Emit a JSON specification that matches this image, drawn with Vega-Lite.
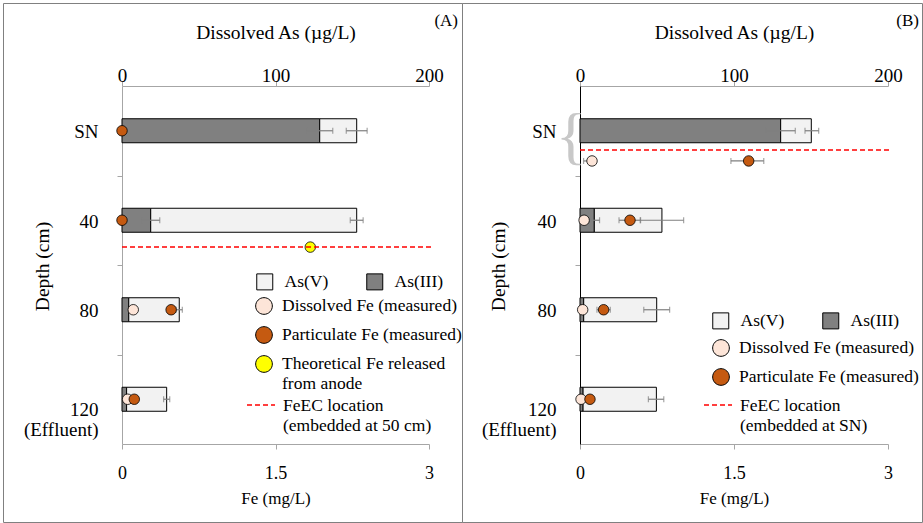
{
  "$schema": "https://vega.github.io/schema/vega-lite/v6.json",
  "padding": {"left": 2, "top": 2, "right": 2, "bottom": 2},
  "spacing": 0,
  "bounds": "flush",
  "config": {
    "font": "Liberation Serif",
    "view": {"stroke": "#808080", "strokeWidth": 1},
    "axis": {"labelColor": "black", "titleColor": "black", "grid": false, "titleFontWeight": "normal", "labelFont": "Liberation Serif", "titleFont": "Liberation Serif"},
    "axisBottom": {"titleFontSize": 17, "titleFont": "Liberation Serif", "titleFontWeight": "normal"},
    "axisTop": {"titleFontSize": 19.5},
    "legend": {"labelFont": "Liberation Serif", "labelFontSize": 17.5, "labelColor": "black", "labelLimit": 400, "padding": 0, "symbolOpacity": 1}
  },
  "datasets": {
    "asA": [
      {"depth": 0, "species": "As(III)", "conc": 128.8},
      {"depth": 0, "species": "As(V)", "conc": 24.1},
      {"depth": 40, "species": "As(III)", "conc": 18.7},
      {"depth": 40, "species": "As(V)", "conc": 134.2},
      {"depth": 80, "species": "As(III)", "conc": 4.4},
      {"depth": 80, "species": "As(V)", "conc": 32.9},
      {"depth": 120, "species": "As(III)", "conc": 3.0},
      {"depth": 120, "species": "As(V)", "conc": 26.1}
    ],
    "asErrA": [
      {"depth": 0, "lo": 120.3, "hi": 137.3},
      {"depth": 0, "lo": 146.1, "hi": 159.7},
      {"depth": 40, "lo": 12.8, "hi": 24.6},
      {"depth": 40, "lo": 148.7, "hi": 157.1},
      {"depth": 80, "lo": 35.3, "hi": 39.3},
      {"depth": 120, "lo": 27.1, "hi": 31.1}
    ],
    "feA": [
      {"depth": 0, "type": "Particulate Fe (measured)", "fe": 0},
      {"depth": 40, "type": "Particulate Fe (measured)", "fe": 0},
      {"depth": 52, "type": "Theoretical Fe released from anode", "fe": 1.84},
      {"depth": 80, "type": "Dissolved Fe (measured)", "fe": 0.11},
      {"depth": 80, "type": "Particulate Fe (measured)", "fe": 0.48},
      {"depth": 120, "type": "Dissolved Fe (measured)", "fe": 0.055},
      {"depth": 120, "type": "Particulate Fe (measured)", "fe": 0.12}
    ],
    "feecA": [{"depth": 52, "loc": "FeEC location (embedded at 50 cm)"}],
    "asB": [
      {"depth": 0, "species": "As(III)", "conc": 130.3},
      {"depth": 0, "species": "As(V)", "conc": 19.9},
      {"depth": 40, "species": "As(III)", "conc": 9.3},
      {"depth": 40, "species": "As(V)", "conc": 43.9},
      {"depth": 80, "species": "As(III)", "conc": 2.4},
      {"depth": 80, "species": "As(V)", "conc": 47.4},
      {"depth": 120, "species": "As(III)", "conc": 2.0},
      {"depth": 120, "species": "As(V)", "conc": 47.6}
    ],
    "asErrB": [
      {"depth": 0, "lo": 120.8, "hi": 139.8},
      {"depth": 0, "lo": 146.1, "hi": 155.0},
      {"depth": 40, "lo": 5.9, "hi": 12.7},
      {"depth": 40, "lo": 39.1, "hi": 67.3},
      {"depth": 80, "lo": 41.4, "hi": 58.2},
      {"depth": 120, "lo": 44.4, "hi": 54.4}
    ],
    "feB": [
      {"depth": 13.5, "type": "Dissolved Fe (measured)", "fe": 0.117},
      {"depth": 13.5, "type": "Particulate Fe (measured)", "fe": 1.643},
      {"depth": 40, "type": "Dissolved Fe (measured)", "fe": 0.04},
      {"depth": 40, "type": "Particulate Fe (measured)", "fe": 0.487},
      {"depth": 80, "type": "Dissolved Fe (measured)", "fe": 0.026},
      {"depth": 80, "type": "Particulate Fe (measured)", "fe": 0.23},
      {"depth": 120, "type": "Dissolved Fe (measured)", "fe": 0.01},
      {"depth": 120, "type": "Particulate Fe (measured)", "fe": 0.097}
    ],
    "feErrB": [
      {"depth": 13.5, "lo": 0.035, "hi": 0.15},
      {"depth": 13.5, "lo": 1.47, "hi": 1.79},
      {"depth": 40, "lo": 0.38, "hi": 0.59},
      {"depth": 80, "lo": 0.165, "hi": 0.295}
    ],
    "feecB": [{"depth": 8.6, "loc": "FeEC location (embedded at SN)"}]
  },
  "resolve": {"scale": {"fill": "independent", "stroke": "independent", "strokeDash": "independent"}},
  "hconcat": [
    {
      "width": 459,
      "height": 519,
      "resolve": {"scale": {"x": "independent", "fill": "independent"}},
      "layer": [
        {
          "data": {"name": "asA"},
          "mark": {"type": "bar", "orient": "horizontal", "size": 24, "stroke": "black", "strokeWidth": 1},
          "encoding": {
            "x": {"field": "conc", "type": "quantitative", "stack": "zero", "title": "Dissolved As (µg/L)",
              "scale": {"domain": [0, 200], "range": [119, 426], "nice": false},
              "axis": {"orient": "top", "offset": -83, "values": [0, 100, 200], "format": "d", "tickSize": 5, "labelPadding": 0, "labelBaseline": "alphabetic", "labelFlush": false, "labelFontSize": 19, "domainColor": "#a6a6a6", "tickColor": "#a6a6a6", "titleFont": "Liberation Serif", "titleFontSize": 19.5, "titleY": -48, "titleBaseline": "alphabetic"}},
            "y": {"field": "depth", "type": "quantitative",
              "scale": {"domain": [-20, 140], "range": [83, 441], "nice": false, "zero": false, "padding": 0},
              "axis": {"orient": "left", "offset": -119, "values": [0, 20, 40, 60, 80, 100, 120],
                "labelExpr": "datum.value == 0 ? 'SN' : datum.value == 120 ? ['120', '(Effluent)'] : (datum.value == 40 || datum.value == 80) ? datum.label : ''",
                "tickSize": 5, "tickColor": "#a6a6a6", "tickOpacity": {"condition": {"test": "datum.value % 40 == 0", "value": 0}, "value": 1},
                "labelPadding": 19, "labelAlign": "right", "labelBaseline": {"condition": {"test": "datum.value == 120", "value": "top"}, "value": "middle"},
                "labelOffset": 1, "labelFontSize": 19, "labelLineHeight": 20, "labelOverlap": false, "labelFlush": false,
                "domainColor": "#a6a6a6", "title": "Depth (cm)", "titleFont": "Liberation Serif", "titleFontSize": 19.5, "titleX": -74, "titleY": 263, "titleBaseline": "alphabetic", "titleAlign": "center", "titleAngle": -90}},
            "fill": {"field": "species", "type": "nominal",
              "scale": {"domain": ["As(V)", "As(III)"], "range": ["#f2f2f2", "#808080"]},
              "legend": {"orient": "none", "legendX": 253, "legendY": 270, "direction": "horizontal", "columns": 2, "symbolType": "square", "symbolSize": 256, "symbolStrokeColor": "black", "symbolStrokeWidth": 1, "labelOffset": 11, "columnPadding": 35, "title": null}},
            "order": {"field": "species", "sort": "ascending"}
          }
        },
        {
          "data": {"name": "asErrA"},
          "mark": {"type": "errorbar", "ticks": true, "size": 6, "thickness": 1.2, "color": "#7f7f7f"},
          "encoding": {
            "x": {"field": "lo", "type": "quantitative", "scale": {"domain": [0, 200], "range": [119, 426], "nice": false}, "axis": null},
            "x2": {"field": "hi"},
            "y": {"field": "depth", "type": "quantitative"}
          }
        },
        {
          "data": {"values": [{}]},
          "mark": {"type": "text", "text": "(A)", "font": "Liberation Serif", "fontSize": 17, "color": "black", "align": "right", "baseline": "alphabetic"},
          "encoding": {
            "x": {"datum": 218.9, "type": "quantitative", "scale": {"domain": [0, 200], "range": [119, 426], "nice": false}, "axis": null},
            "y": {"datum": -46.8, "type": "quantitative"}
          }
        },
        {
          "data": {"name": "feA"},
          "mark": {"type": "circle", "size": 110, "stroke": "black", "strokeWidth": 0.8, "opacity": 1},
          "encoding": {
            "x": {"field": "fe", "type": "quantitative", "title": "Fe (mg/L)",
              "scale": {"domain": [0, 3], "range": [119, 426], "nice": false},
              "axis": {"orient": "bottom", "offset": -78, "values": [0, 1.5, 3], "labelExpr": "'' + datum.value", "tickSize": 5, "labelPadding": 29, "labelBaseline": "alphabetic", "labelFlush": false, "labelFontSize": 18, "domainColor": "#a6a6a6", "tickColor": "#a6a6a6", "title": "Fe (mg/L)", "titleFont": "Liberation Serif", "titleFontSize": 17, "titleFontWeight": "normal", "titleY": 59, "titleBaseline": "alphabetic"}},
            "y": {"field": "depth", "type": "quantitative"},
            "fill": {"field": "type", "type": "nominal",
              "scale": {"domain": ["Dissolved Fe (measured)", "Particulate Fe (measured)", "Theoretical Fe released from anode"], "range": ["#fde5d8", "#c55a11", "#ffff00"]},
              "legend": {"orient": "none", "legendX": 252, "legendY": 299, "direction": "vertical", "symbolType": "M-1,-0.6A1,1,0,1,1,1,-0.6A1,1,0,1,1,-1,-0.6Z", "symbolSize": 279, "symbolStrokeColor": "black", "symbolStrokeWidth": 1, "labelOffset": 9, "rowPadding": 7, "labelBaseline": "alphabetic", "labelLineHeight": 22, "labelExpr": "datum.label == 'Theoretical Fe released from anode' ? ['Theoretical Fe released', 'from anode'] : datum.label", "title": null}}
          }
        },
        {
          "data": {"name": "feecA"},
          "mark": {"type": "rule", "strokeWidth": 1.5},
          "encoding": {
            "y": {"field": "depth", "type": "quantitative"},
            "x": {"datum": 0, "type": "quantitative", "scale": {"domain": [0, 3], "range": [119, 426], "nice": false}, "axis": null},
            "x2": {"datum": 3.02},
            "stroke": {"field": "loc", "type": "nominal", "scale": {"range": ["#ff0000"]},
              "legend": {"orient": "none", "legendX": 243, "legendY": 393, "symbolType": "M-1,-0.43H1", "symbolSize": 784, "symbolStrokeWidth": 1.5, "symbolFillColor": "transparent", "labelOffset": 7, "labelBaseline": "alphabetic", "labelLineHeight": 22, "labelExpr": "['FeEC location', '(embedded at 50 cm)']", "title": null}},
            "strokeDash": {"field": "loc", "type": "nominal", "scale": {"range": [[5, 3]]},
              "legend": {"orient": "none", "legendX": 243, "legendY": 393, "symbolType": "M-1,-0.43H1", "symbolSize": 784, "symbolStrokeWidth": 1.5, "symbolFillColor": "transparent", "labelOffset": 7, "labelBaseline": "alphabetic", "labelLineHeight": 22, "labelExpr": "['FeEC location', '(embedded at 50 cm)']", "title": null}}
          }
        }
      ]
    },
    {
      "width": 460,
      "height": 519,
      "resolve": {"scale": {"x": "independent", "fill": "independent"}},
      "layer": [
        {
          "data": {"name": "asB"},
          "mark": {"type": "bar", "orient": "horizontal", "size": 24, "stroke": "black", "strokeWidth": 1},
          "encoding": {
            "x": {"field": "conc", "type": "quantitative", "stack": "zero", "title": "Dissolved As (µg/L)",
              "scale": {"domain": [0, 200], "range": [118, 426], "nice": false},
              "axis": {"orient": "top", "offset": -83, "values": [0, 100, 200], "format": "d", "tickSize": 5, "labelPadding": 0, "labelBaseline": "alphabetic", "labelFlush": false, "labelFontSize": 19, "domainColor": "#a6a6a6", "tickColor": "#a6a6a6", "titleFont": "Liberation Serif", "titleFontSize": 19.5, "titleY": -48, "titleBaseline": "alphabetic"}},
            "y": {"field": "depth", "type": "quantitative",
              "scale": {"domain": [-20, 140], "range": [83, 441], "nice": false, "zero": false, "padding": 0},
              "axis": {"orient": "left", "offset": -118, "values": [0, 20, 40, 60, 80, 100, 120],
                "labelExpr": "datum.value == 0 ? 'SN' : datum.value == 120 ? ['120', '(Effluent)'] : (datum.value == 40 || datum.value == 80) ? datum.label : ''",
                "tickSize": 5, "tickColor": "#a6a6a6", "tickOpacity": {"condition": {"test": "datum.value % 40 == 0", "value": 0}, "value": 1},
                "labelPadding": 19, "labelAlign": "right", "labelBaseline": {"condition": {"test": "datum.value == 120", "value": "top"}, "value": "middle"},
                "labelOffset": 1, "labelFontSize": 19, "labelLineHeight": 20, "labelOverlap": false, "labelFlush": false,
                "domainColor": "#000000", "title": "Depth (cm)", "titleFont": "Liberation Serif", "titleFontSize": 19.5, "titleX": -76, "titleY": 263, "titleBaseline": "alphabetic", "titleAlign": "center", "titleAngle": -90}},
            "fill": {"field": "species", "type": "nominal",
              "scale": {"domain": ["As(V)", "As(III)"], "range": ["#f2f2f2", "#808080"]},
              "legend": {"orient": "none", "legendX": 250, "legendY": 309, "direction": "horizontal", "columns": 2, "symbolType": "square", "symbolSize": 256, "symbolStrokeColor": "black", "symbolStrokeWidth": 1, "labelOffset": 11, "columnPadding": 35, "title": null}},
            "order": {"field": "species", "sort": "ascending"}
          }
        },
        {
          "data": {"name": "asErrB"},
          "mark": {"type": "errorbar", "ticks": true, "size": 6, "thickness": 1.2, "color": "#7f7f7f"},
          "encoding": {
            "x": {"field": "lo", "type": "quantitative", "scale": {"domain": [0, 200], "range": [118, 426], "nice": false}, "axis": null},
            "x2": {"field": "hi"},
            "y": {"field": "depth", "type": "quantitative"}
          }
        },
        {
          "data": {"values": [{}]},
          "mark": {"type": "text", "text": "{", "font": "Liberation Serif", "fontSize": 64, "color": "#c8c8c8", "align": "center", "baseline": "middle"},
          "encoding": {
            "x": {"datum": -5.8, "type": "quantitative", "scale": {"domain": [0, 200], "range": [118, 426], "nice": false}, "axis": null},
            "y": {"datum": 3.2, "type": "quantitative"}
          }
        },
        {
          "data": {"values": [{}]},
          "mark": {"type": "text", "text": "(B)", "font": "Liberation Serif", "fontSize": 17, "color": "black", "align": "right", "baseline": "alphabetic"},
          "encoding": {
            "x": {"datum": 220.1, "type": "quantitative", "scale": {"domain": [0, 200], "range": [118, 426], "nice": false}, "axis": null},
            "y": {"datum": -46.8, "type": "quantitative"}
          }
        },
        {
          "data": {"name": "feErrB"},
          "mark": {"type": "errorbar", "ticks": true, "size": 6, "thickness": 1.2, "color": "#7f7f7f"},
          "encoding": {
            "x": {"field": "lo", "type": "quantitative", "scale": {"domain": [0, 3], "range": [118, 426], "nice": false}, "axis": null},
            "x2": {"field": "hi"},
            "y": {"field": "depth", "type": "quantitative"}
          }
        },
        {
          "data": {"name": "feB"},
          "mark": {"type": "circle", "size": 110, "stroke": "black", "strokeWidth": 0.8, "opacity": 1},
          "encoding": {
            "x": {"field": "fe", "type": "quantitative", "title": "Fe (mg/L)",
              "scale": {"domain": [0, 3], "range": [118, 426], "nice": false},
              "axis": {"orient": "bottom", "offset": -78, "values": [0, 1.5, 3], "labelExpr": "'' + datum.value", "tickSize": 5, "labelPadding": 29, "labelBaseline": "alphabetic", "labelFlush": false, "labelFontSize": 18, "domainColor": "#a6a6a6", "tickColor": "#a6a6a6", "title": "Fe (mg/L)", "titleFont": "Liberation Serif", "titleFontSize": 17, "titleFontWeight": "normal", "titleY": 59, "titleBaseline": "alphabetic"}},
            "y": {"field": "depth", "type": "quantitative"},
            "fill": {"field": "type", "type": "nominal",
              "scale": {"domain": ["Dissolved Fe (measured)", "Particulate Fe (measured)"], "range": ["#fde5d8", "#c55a11"]},
              "legend": {"orient": "none", "legendX": 250, "legendY": 341, "direction": "vertical", "symbolType": "M-1,-0.6A1,1,0,1,1,1,-0.6A1,1,0,1,1,-1,-0.6Z", "symbolSize": 279, "symbolStrokeColor": "black", "symbolStrokeWidth": 1, "labelOffset": 9, "rowPadding": 7, "labelBaseline": "alphabetic", "labelLineHeight": 22, "title": null}}
          }
        },
        {
          "data": {"name": "feecB"},
          "mark": {"type": "rule", "strokeWidth": 1.5},
          "encoding": {
            "y": {"field": "depth", "type": "quantitative"},
            "x": {"datum": 0, "type": "quantitative", "scale": {"domain": [0, 3], "range": [118, 426], "nice": false}, "axis": null},
            "x2": {"datum": 3.02},
            "stroke": {"field": "loc", "type": "nominal", "scale": {"range": ["#ff0000"]},
              "legend": {"orient": "none", "legendX": 241, "legendY": 393, "symbolType": "M-1,-0.43H1", "symbolSize": 784, "symbolStrokeWidth": 1.5, "symbolFillColor": "transparent", "labelOffset": 7, "labelBaseline": "alphabetic", "labelLineHeight": 22, "labelExpr": "['FeEC location', '(embedded at SN)']", "title": null}},
            "strokeDash": {"field": "loc", "type": "nominal", "scale": {"range": [[5, 3]]},
              "legend": {"orient": "none", "legendX": 241, "legendY": 393, "symbolType": "M-1,-0.43H1", "symbolSize": 784, "symbolStrokeWidth": 1.5, "symbolFillColor": "transparent", "labelOffset": 7, "labelBaseline": "alphabetic", "labelLineHeight": 22, "labelExpr": "['FeEC location', '(embedded at SN)']", "title": null}}
          }
        }
      ]
    }
  ]
}
